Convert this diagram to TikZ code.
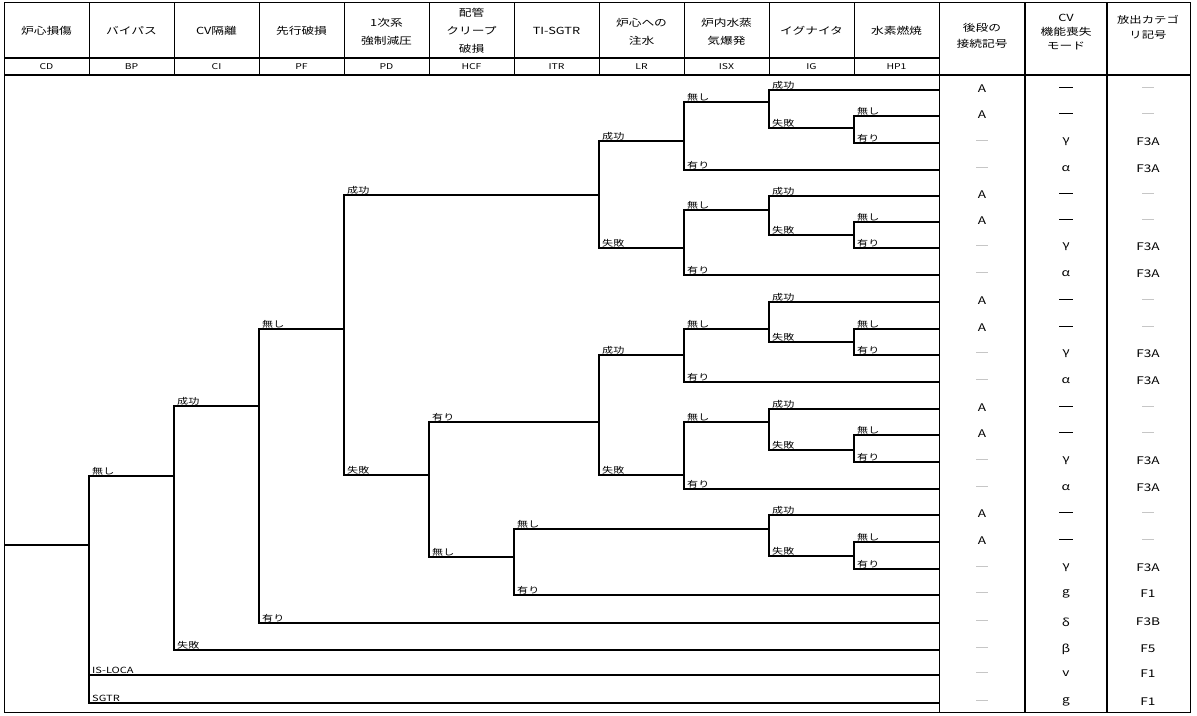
\documentclass[tikz,border=0pt]{standalone}
\usepackage{fontspec}
\setmainfont{Noto Sans CJK JP}
\newfontfamily\jplab[FakeStretch=1.3]{Noto Sans CJK JP}
\newfontfamily\jphd[FakeStretch=1.3]{Noto Sans CJK JP}
\newcommand\gdash{{\color{gray!45}\rule[0.6ex]{12pt}{0.7pt}}}
\newcommand\bdash{\rule[0.55ex]{14pt}{1.7pt}}
\begin{document}
\begin{tikzpicture}[x=1pt,y=-1pt,
  tl/.style={line width=1.1pt,line cap=rect},
  gl/.style={line width=0.8pt},
  lab/.style={font=\jplab\fontsize{8.5}{8.5}\selectfont,anchor=south west,inner sep=1pt,xshift=2pt},
  hd/.style={font=\jphd\fontsize{9.8}{18}\selectfont,align=center,inner sep=0pt},
  code/.style={font=\jphd\fontsize{8}{8}\selectfont,inner sep=0pt},
  cell/.style={font=\jphd\fontsize{10.5}{10.5}\selectfont,inner sep=0pt}]
\useasboundingbox (0,0) rectangle (1197,715);
\fill[white] (0,0) rectangle (1197,715);
% frame and grid
\draw[gl] (4,2) rectangle (1190,712);
\draw[line width=1.1pt] (4,58) -- (939,58);
\draw[line width=1.2pt] (4,75) -- (1190,75);
\foreach \x in {89,174,...,854}{\draw[gl] (\x,2) -- (\x,75);}
\draw[gl] (939,2) -- (939,712);
\draw[line width=1.3pt] (1025,2) -- (1025,712);
\draw[line width=1.3pt] (1107,2) -- (1107,712);
% headers
\node[hd] (h1) at (46.5,31) {炉心損傷};
\node[hd] (h2) at (131.5,31) {バイパス};
\node[hd] (h3) at (216.5,31) {CV隔離};
\node[hd] (h4) at (301.5,31) {先行破損};
\node[hd] (h5) at (386.5,32) {1次系\\強制減圧};
\node[hd] (h6) at (471.5,31) {配管\\クリープ\\破損};
\node[hd] (h7) at (556.5,31) {TI-SGTR};
\node[hd] (h8) at (641.5,32) {炉心への\\注水};
\node[hd] (h9) at (726.5,32) {炉内水蒸\\気爆発};
\node[hd] (h10) at (811.5,31) {イグナイタ};
\node[hd] (h11) at (896.5,31) {水素燃焼};
\node[hd,font=\jphd\fontsize{9.8}{16}\selectfont] (h12) at (982,36) {後段の\\接続記号};
\node[hd,font=\jphd\fontsize{9.8}{14}\selectfont] (h13) at (1066,32) {CV\\機能喪失\\モード};
\node[hd,font=\jphd\fontsize{9.5}{15}\selectfont] (h14) at (1148,27) {放出カテゴ\\リ記号};
\foreach \t [count=\i] in {CD,BP,CI,PF,PD,HCF,ITR,LR,ISX,IG,HP1}
  \node[code] (c\i) at (4+85*\i-42.5,66.5) {\t};
% tree coordinates
\coordinate (start) at (5,545);
\coordinate (BP) at (89,545);
\coordinate (CI) at (174,476);
\coordinate (PF) at (259,406);
\coordinate (PD) at (344,329);
\coordinate (LRa) at (599,195);
\coordinate (ISXa) at (684,141);
\coordinate (IGa) at (769,102);
\coordinate (HPa) at (854,128);
\coordinate (ISXb) at (684,248);
\coordinate (IGb) at (769,210);
\coordinate (HPb) at (854,235);
\coordinate (HCF) at (429,475);
\coordinate (LRb) at (599,422);
\coordinate (ISXc) at (684,355);
\coordinate (IGc) at (769,329);
\coordinate (HPc) at (854,342);
\coordinate (ISXd) at (684,475);
\coordinate (IGd) at (769,422);
\coordinate (HPd) at (854,450);
\coordinate (ITR) at (514,557);
\coordinate (IGe) at (769,529);
\coordinate (HPe) at (854,556);
\foreach \n/\y in {r0/90,r1/116,r2/143,r3/170,r4/196,r5/222,r6/248,r7/275,
  r8/302,r9/329,r10/355,r11/382,r12/409,r13/435,r14/462,r15/489,
  r16/515,r17/542,r18/569,r19/595,r20/623,r21/650,r22/675,r23/703}
  \coordinate (\n) at (939,\y);
\newcommand\br[3]{\draw[tl] (#1) |- (#2); \node[lab] (lab-#2) at (#1 |- #2) {#3};}
\draw[tl] (start) -- (BP);
\br{BP}{CI}{無し}
\br{BP}{r22}{IS-LOCA}
\br{BP}{r23}{SGTR}
\br{CI}{PF}{成功}
\br{CI}{r21}{失敗}
\br{PF}{PD}{無し}
\br{PF}{r20}{有り}
\br{PD}{LRa}{成功}
\br{PD}{HCF}{失敗}
\br{LRa}{ISXa}{成功}
\br{LRa}{ISXb}{失敗}
\br{ISXa}{IGa}{無し}
\br{ISXa}{r3}{有り}
\br{IGa}{r0}{成功}
\br{IGa}{HPa}{失敗}
\br{HPa}{r1}{無し}
\br{HPa}{r2}{有り}
\br{ISXb}{IGb}{無し}
\br{ISXb}{r7}{有り}
\br{IGb}{r4}{成功}
\br{IGb}{HPb}{失敗}
\br{HPb}{r5}{無し}
\br{HPb}{r6}{有り}
\br{HCF}{LRb}{有り}
\br{HCF}{ITR}{無し}
\br{LRb}{ISXc}{成功}
\br{LRb}{ISXd}{失敗}
\br{ISXc}{IGc}{無し}
\br{ISXc}{r11}{有り}
\br{IGc}{r8}{成功}
\br{IGc}{HPc}{失敗}
\br{HPc}{r9}{無し}
\br{HPc}{r10}{有り}
\br{ISXd}{IGd}{無し}
\br{ISXd}{r15}{有り}
\br{IGd}{r12}{成功}
\br{IGd}{HPd}{失敗}
\br{HPd}{r13}{無し}
\br{HPd}{r14}{有り}
\br{ITR}{IGe}{無し}
\br{ITR}{r19}{有り}
\br{IGe}{r16}{成功}
\br{IGe}{HPe}{失敗}
\br{HPe}{r17}{無し}
\br{HPe}{r18}{有り}
% right columns
\coordinate (ca) at (982,0);
\coordinate (cm) at (1066,0);
\coordinate (cf) at (1148,0);
\newcommand\rowtxt[4]{\node[cell] (a-#1) at ([yshift=1pt]#1 -| ca) {#2};
  \node[cell] (m-#1) at ([yshift=1pt]#1 -| cm) {#3};
  \node[cell] (f-#1) at ([yshift=1pt]#1 -| cf) {#4};}
\foreach \r in {r0,r1,r4,r5,r8,r9,r12,r13,r16,r17}{\rowtxt{\r}{A}{\bdash}{\gdash}}
\foreach \r in {r2,r6,r10,r14,r18}{\rowtxt{\r}{\gdash}{γ}{F3A}}
\foreach \r in {r3,r7,r11,r15}{\rowtxt{\r}{\gdash}{α}{F3A}}
\rowtxt{r19}{\gdash}{g}{F1}
\rowtxt{r20}{\gdash}{δ}{F3B}
\rowtxt{r21}{\gdash}{β}{F5}
\rowtxt{r22}{\gdash}{v}{F1}
\rowtxt{r23}{\gdash}{g}{F1}
\end{tikzpicture}
\end{document}
